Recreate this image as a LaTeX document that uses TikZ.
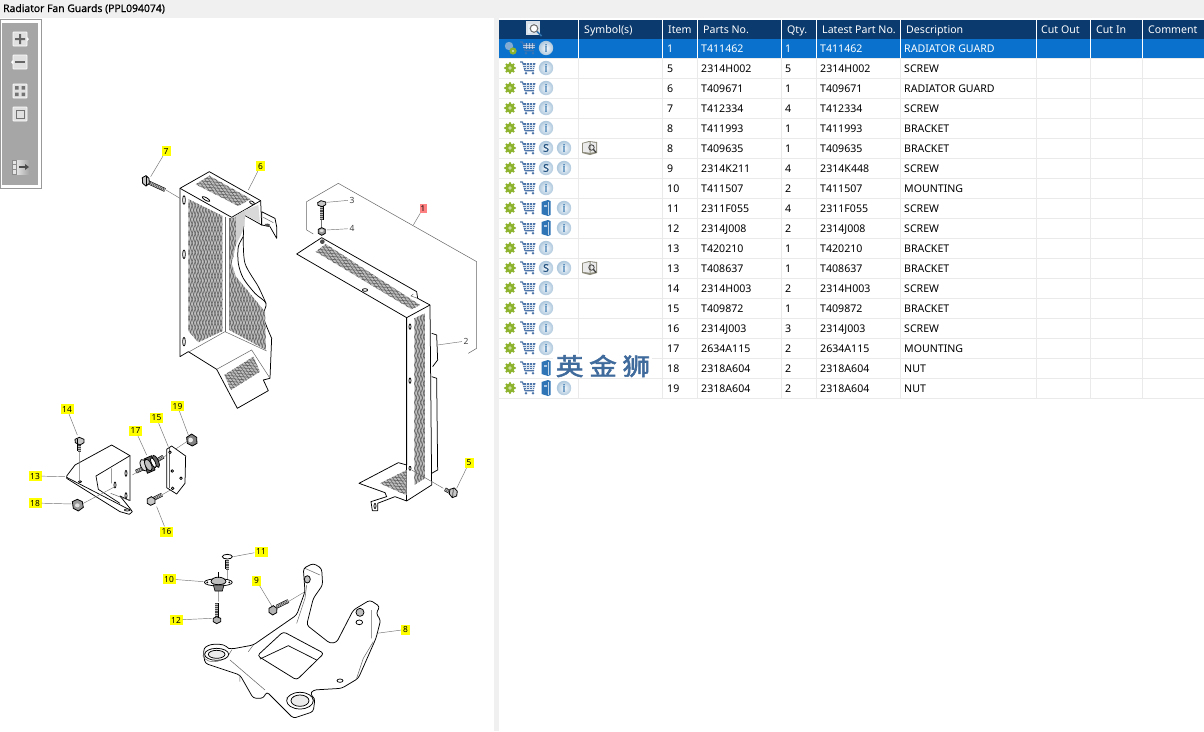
\documentclass[tikz,border=0pt]{standalone}
\usepackage{fontspec}
\setmainfont{Noto Sans}
\newfontfamily\cjk{Noto Sans CJK SC}[FakeBold=2.2]
\newfontfamily\boldf{Open Sans}[FakeBold=1.2]
\newfontfamily\iconf{Open Sans}[FakeBold=2]
\usetikzlibrary{calc,patterns.meta,shapes.geometric}
\definecolor{navy}{HTML}{0B3A6E}
\definecolor{selblue}{HTML}{0A72CC}
\definecolor{gridc}{HTML}{EAEAEA}
\definecolor{gearg}{HTML}{8DB32D}
\definecolor{cartb}{HTML}{4F76AA}
\definecolor{infof}{HTML}{B6D2E8}
\definecolor{infot}{HTML}{2F72AC}
\definecolor{bookb}{HTML}{2F74B5}
\definecolor{calloutY}{HTML}{FFFF00}
\definecolor{calloutP}{HTML}{FF8080}
\definecolor{wm}{HTML}{3F6A9C}
\definecolor{manualc}{HTML}{8E8C7C}
\tikzset{
 x=1pt,y=-1pt,
 txt/.style={anchor=base west,inner sep=0pt,font=\fontsize{10.6}{12}\selectfont,text=black},
 hdr/.style={anchor=base west,inner sep=0pt,font=\fontsize{10.6}{12}\selectfont,text=white},
 ylab/.style={fill=calloutY,inner sep=0pt,minimum width=9pt,minimum height=10pt,font=\fontsize{8.4}{9}\selectfont,text=black},
 plab/.style={inner sep=0pt,minimum width=8pt,minimum height=9pt,font=\fontsize{8.5}{9}\selectfont,text=black!80},
 leader/.style={draw=black!55,line width=.45pt},
 thin part/.style={draw=black!55,line width=.4pt},
 part/.style={draw=black,line width=.75pt,line join=round,fill=white},
 edge/.style={draw=black!60,line width=.5pt},
 head/.style={draw=black,line width=.8pt,fill=black!22},
 btn/.style={draw=white,fill=black!12,line width=.6pt,rounded corners=.6pt},
 meshA/.style={pattern={Lines[angle=#1,distance=2.9pt,line width=.6pt]},pattern color=black!62},
 z4/.style={shift={(130,130)},x=.3333pt,y=-.3333pt},
 z5/.style={shift={(285,170)},x=.3333pt,y=-.3333pt},
 z6/.style={shift={(20,390)},x=.3333pt,y=-.3333pt},
 z7/.style={shift={(150,535)},x=.3333pt,y=-.3333pt},
}
\newcommand{\meshpoly}[3]{%
 \fill[black!25] #1;
 \fill[meshA=#2] #1;
 \fill[meshA=#3] #1;}
% threaded shank from #1 to #2
\newcommand{\shank}[2]{%
 \draw[black,line width=3.8pt] #1 -- #2;
 \draw[white!75!black,line width=2.6pt] #1 -- #2;
 \draw[black!70,line width=2.6pt,dash pattern=on .7pt off 1.1pt] #1 -- #2;}
\newcommand{\gearicon}[2]{%
 \begin{scope}[shift={(#1,#2)}]
 \foreach \a in {0,45,...,315}{\fill[gearg] (\a:4.8) circle (1.35);}
 \fill[gearg] (0,0) circle (4.5);
 \fill[white!55!gearg] (0,0) circle (1.8);
 \end{scope}}
\newcommand{\carticon}[2]{%
 \begin{scope}[shift={(#1,#2)}]
 \draw[cartb,line width=1.1pt,line join=round] (-8,-6) -- (-5.5,-6) -- (-3,2.7) -- (6,2.7);
 \fill[cartb] (-5,-5) -- (7.5,-5) -- (6,1.2) -- (-3.3,1.2) -- cycle;
 \foreach \yy in {-3,-1}{\draw[white!80!cartb,line width=.35pt] (-5,\yy) -- (7,\yy);}
 \foreach \xx in {-1.5,1.5,4.5}{\draw[white!80!cartb,line width=.35pt] (\xx,-5) -- (\xx,1.2);}
 \fill[cartb] (-2,5.2) circle (1.4) (5,5.2) circle (1.4);
 \end{scope}}
\newcommand{\roundicon}[4]{%
 \begin{scope}[shift={(#1,#2)}]
 \shade[inner color=white!90!infof,outer color=infof!95!black] (0,0) circle (7.2);
 \node[inner sep=0pt,text=#4,font=\iconf\fontsize{10.5}{10}\selectfont] at (0,0) {#3};
 \end{scope}}
\newcommand{\bookicon}[2]{%
 \begin{scope}[shift={(#1,#2)}]
 \fill[bookb] (-4.5,-6) -- (2,-8) -- (4.5,-7) -- (4.5,7) -- (2,8) -- (-4.5,6) -- cycle;
 \draw[white!70!bookb,line width=.7pt] (2.5,-6.5) -- (2.5,6.5);
 \fill[white!60!bookb] (-2.5,-3.5) rectangle (.5,-1.5);
 \end{scope}}
\newcommand{\manualicon}[2]{%
 \begin{scope}[shift={(#1,#2)}]
 \fill[manualc] (-8,-5) -- (-1,-7) -- (7,-6) -- (7,5) -- (0,7) -- (-8,5) -- cycle;
 \fill[white!92!black] (-6.8,-4.5) -- (-.5,-6) -- (-.5,4.8) -- (-6.8,3.8) -- cycle;
 \fill[white!92!black] (.5,-6) -- (6,-5) -- (6,3.8) -- (.5,4.8) -- cycle;
 \draw[black!70,line width=.9pt] (1.5,-.5) circle (2.7);
 \draw[black!75,line width=1.3pt] (3.5,1.5) -- (6,4.5);
 \end{scope}}
\begin{document}
\begin{tikzpicture}
\useasboundingbox (0,0) rectangle (1204,731);
\fill[white] (0,0) rectangle (1204,731);
% title bar and divider
\fill[black!6] (0,0) rectangle (1204,18);
\node[inner sep=0pt,anchor=base west,font=\boldf\fontsize{10.4}{12}\selectfont] (title) at (3,12) {Radiator Fan Guards (PPL094074)};
\fill[black!6] (494,18) rectangle (499,731);
% toolbar
\draw[black!40,line width=.8pt,fill=white] (.5,19.5) rectangle (41,188);
\fill[black!35] (2,23) rectangle (38,185);
\draw[btn] (13,32) rectangle (27,46);
\fill[black!60] (15,38) rectangle (25,40) (19,34) rectangle (21,44);
\fill[white] (27,37) -- (29,39) -- (27,41) -- cycle;
\draw[btn] (13,55) rectangle (27,69);
\fill[black!60] (15,61) rectangle (25,63);
\fill[white] (13,60) -- (11,62) -- (13,64) -- cycle;
\draw[btn] (13,84) rectangle (27,98);
\fill[black!55] (15,86) rectangle (18.5,89.5) (21.5,86) rectangle (25,89.5) (15,92.5) rectangle (18.5,96) (21.5,92.5) rectangle (25,96);
\draw[btn] (13,107) rectangle (27,121);
\draw[black!55,line width=.9pt] (16,110) rectangle (24,118);
\shade[left color=black!10,right color=black!35] (16,160) rectangle (29,174);
\fill[black!10] (12,160) rectangle (16,174);
\draw[black!45,line width=.5pt] (12,160) rectangle (16,174) (12,164.5) -- (16,164.5) (12,169.5) -- (16,169.5);
\draw[black!70,line width=1.2pt] (19,167) -- (26,167);
\fill[black!70] (25,164) -- (29,167) -- (25,170) -- cycle;

% ---------- guard 6 ----------
\begin{scope}[z4]
 \draw[part] (395,245) -- (435,265) -- (440,290) -- (440,325) -- (420,290) -- (395,285) -- cycle;
 \draw[edge] (400,262) -- (430,278) (405,282) -- (420,290);
 \fill[black!70] (412,285) ellipse (8 and 4);
 \draw[part] (150,175) -- (238,125) -- (392,212) -- (395,285) -- (342,255) -- (340,320) -- plot[smooth] coordinates {(340,320) (325,350) (325,400) (340,445) (375,490) (408,520) (400,560) (425,625)} -- (420,745) -- (400,750) -- (415,782) -- (322,835) -- (260,718) -- (175,665) -- (150,680) -- cycle;
 \draw[black,line width=.7pt] plot[smooth] coordinates {(340,320) (345,400) (385,470) (408,520)};
 \draw[black,line width=.75pt] (150,175) -- (305,262) -- (392,212);
 \fill[black!18] (310,262) -- (345,240) -- (345,255) -- (340,300) -- (318,345) -- (318,265) -- cycle;
 \fill[black!15] (345,240) -- (385,225) -- (390,278) -- (345,255) -- cycle;
 \draw[edge] (305,262) -- (305,270) (285,262) -- (285,605) (298,265) -- (298,600);
 \draw[edge] (178,665) -- (285,605) -- (410,663) (260,718) -- (365,660) -- (420,745);
 \meshpoly{(197,163) -- (238,137) -- (362,207) -- (325,228) -- cycle}{-5}{-55}
 \meshpoly{(175,207) -- (278,258) -- (278,603) -- (205,637) -- (175,603) -- cycle}{-72}{-108}
 \meshpoly{(300,265) -- (318,262) -- (318,345) -- (305,400) -- (318,440) -- (405,545) -- (408,660) -- (298,600) -- cycle}{-72}{-108}
 \meshpoly{(283,735) -- (370,680) -- (390,725) -- (303,780) -- cycle}{-5}{-55}
 \draw[part] (162,210) ellipse (4 and 13);
 \draw[part] (162,373) ellipse (4 and 13);
 \draw[part] (162,635) ellipse (4 and 13);
 \draw[part,rotate around={-30:(228,207)}] (228,207) ellipse (13 and 4);
 \draw[part,rotate around={-30:(366,218)}] (366,218) ellipse (8 and 4);
 \coordinate (e7a) at (62,140); \coordinate (e7b) at (108,180); \coordinate (e7c) at (150,205);
 \coordinate (e6) at (355,180);
 % bolt 7
 \shank{(55,157)}{(105,180)}
 \draw[head] (37,143) -- (48,137) -- (57,145) -- (58,160) -- (48,168) -- (38,160) -- cycle;
 \draw[black,line width=.5pt] (48,137) -- (48,168);
\end{scope}
\node[ylab] (c7) at (166,151) {7};
\node[ylab] (c6) at (260.5,166) {6};
\draw[leader] (c7) -- (e7a) (e7b) -- (e7c) (c6) -- (e6);

% ---------- guard 1 ----------
\begin{scope}[z5]
 \draw[black!60,line width=.5pt] (85,192) -- (65,180) -- (65,95) -- (160,40) -- (575,275) -- (575,535) -- (550,550);
 \draw[part] (440,490) -- (455,495) -- (458,570) -- (443,590);
 \draw[part] (440,620) -- (455,625) -- (458,900) -- (440,910);
 \draw[part] (35,252) -- (110,203) -- (395,365) -- (398,385) -- (435,405) -- (440,945) -- (365,993) -- (330,980) -- (278,1000) -- (278,1022) -- (262,1022) -- (258,995) -- (305,980) -- (300,968) -- (222,940) -- (340,878) -- (365,885) -- (365,443) -- cycle;
 \draw[black,line width=.75pt] (365,443) -- (435,405);
 \draw[black,line width=.75pt] (365,443) -- (365,993);
 \draw[edge] (385,372) -- (378,378) -- (398,385);
 \meshpoly{(92,245) -- (122,222) -- (405,405) -- (380,418) -- cycle}{-5}{-55}
 \meshpoly{(388,445) -- (420,430) -- (420,925) -- (388,945) -- cycle}{-72}{-108}
 \meshpoly{(285,940) -- (365,900) -- (365,975) -- (340,965) -- cycle}{-5}{-55}
 \draw[part] (240,360) ellipse (8 and 4);
 \draw[part] (375,470) ellipse (3 and 8);
 \draw[part] (375,632) ellipse (3 and 8);
 \draw[part] (375,895) ellipse (3 and 6);
 \draw[part] (270,1008) ellipse (3 and 8);
 \fill[black!70] (112,215) circle (7);
 % bolt 3, nut 4
 \shank{(110,108)}{(110,150)}
 \draw[head] (98,98) -- (108,92) -- (122,96) -- (122,104) -- (112,110) -- (99,106) -- cycle;
 \draw[thin part] (110,150) -- (110,175);
 \draw[head,fill=black!40] (100,178) -- (110,173) -- (121,178) -- (121,190) -- (110,196) -- (100,190) -- cycle;
 \fill[black!12] (110,182) ellipse (6 and 4);
 % bolt 5
 \draw[black!60,line width=.45pt] (380,900) -- (475,955);
 \shank{(480,958)}{(497,967)}
 \draw[head] (495,958) -- (508,954) -- (517,964) -- (515,978) -- (502,983) -- (493,972) -- cycle;
 \draw[black,line width=.5pt] (505,954) -- (503,982);
 \coordinate (e3) at (125,97); \coordinate (e4) at (125,180);
 \coordinate (e2) at (458,525); \coordinate (e1) at (385,165); \coordinate (e5) at (515,955);
\end{scope}
\node[plab,text=black!75] (c3) at (352,200) {3};
\node[plab,text=black!75] (c4) at (352,228.5) {4};
\node[plab,text=black!75] (c2) at (466,341) {2};
\node[fill=calloutP,inner sep=0pt,minimum width=7pt,minimum height=9pt,font=\fontsize{8}{9}\selectfont] (c1) at (423,208.5) {1};
\node[ylab] (c5) at (469,463) {5};
\draw[leader] (c3) -- (e3) (c4) -- (e4) (c2) -- (e2) (c1) -- (e1) (c5) -- (e5);

% ---------- mounting group ----------
\begin{scope}[z6]
 \draw[part] (275,165) -- (330,197) -- (330,332) -- (300,318) -- (330,355) -- (337,365) -- (328,373) -- (300,365) -- (140,265) -- (140,258) -- (165,225) -- cycle;
 \draw[black,line width=.7pt] (140,262) -- (330,360);
 \draw[black,line width=.7pt] (330,197) -- (228,258) -- (235,298) -- (300,340);
 \draw[edge] (275,235) -- (275,280) (272,310) -- (330,332);
 \draw[part] (318,250) ellipse (3 and 9);
 \draw[part] (318,317) ellipse (3 and 9);
 \draw[part] (285,285) ellipse (3 and 9);
 \draw[part] (322,360) ellipse (9 and 3);
 \draw[part] (180,275) ellipse (5 and 3);
 \draw[thin part] (178,182) -- (178,272) (190,340) -- (285,290) (337,255) -- (350,247) (425,208) -- (445,190) (455,185) -- (500,155) (425,315) -- (455,298);
 \shank{(178,160)}{(178,183)}
 \draw[head] (165,148) -- (178,142) -- (192,148) -- (192,158) -- (180,165) -- (166,158) -- cycle;
 \draw[black,line width=.5pt] (172,146) -- (172,161);
 \draw[head,fill=black!40] (157,335) -- (172,328) -- (187,335) -- (190,352) -- (175,363) -- (160,355) -- cycle;
 \fill[black!12] (172,346) ellipse (7 and 6);
 % mount 17
 \shank{(348,245)}{(380,230)}
 \shank{(410,212)}{(430,200)}
 \draw[part,fill=black!15,rotate around={25:(372,226)}] (372,226) ellipse (10 and 19);
 \draw[part,fill=black!65] (372,207) -- (395,197) -- (405,240) -- (382,250) -- cycle;
 \draw[part,fill=black!25,rotate around={25:(385,225)}] (385,225) ellipse (9 and 19);
 \draw[part,fill=black!60,rotate around={25:(408,214)}] (408,214) ellipse (7 and 20);
 \draw[part,fill=white,rotate around={25:(400,218)}] (400,218) ellipse (6 and 16);
 % plate 15
 \draw[part] (440,178) -- (455,168) -- (497,198) -- (495,280) -- (470,312) -- (440,293) -- cycle;
 \draw[edge] (447,175) -- (447,293);
 \draw[part] (450,187) circle (4);
 \draw[part] (457,243) circle (4);
 \draw[part] (483,265) circle (4);
 \draw[part] (458,295) circle (4);
 \draw[head,fill=black!50] (500,142) -- (515,132) -- (530,142) -- (531,160) -- (517,168) -- (502,160) -- cycle;
 \fill[black!8] (512,150) ellipse (7 and 7);
 \shank{(402,326)}{(426,314)}
 \draw[head] (382,327) -- (394,320) -- (405,327) -- (405,340) -- (392,346) -- (382,340) -- cycle;
 \coordinate (e14) at (172,135); \coordinate (e13) at (135,260); \coordinate (e18) at (155,342);
 \coordinate (e17) at (380,195); \coordinate (e15) at (445,170); \coordinate (e19) at (505,135); \coordinate (e16) at (410,350);
\end{scope}
\node[ylab,minimum width=13pt] (c14) at (67,409) {14};
\node[ylab,minimum width=13pt] (c13) at (35,476) {13};
\node[ylab,minimum width=13pt] (c18) at (35,503) {18};
\node[ylab,minimum width=13pt] (c17) at (135.5,430.5) {17};
\node[ylab,minimum width=13pt] (c15) at (156.5,418) {15};
\node[ylab,minimum width=13pt] (c19) at (177.5,406) {19};
\node[ylab,minimum width=13pt] (c16) at (166.5,531.5) {16};
\draw[leader] (c14) -- (e14) (c13) -- (e13) (c18) -- (e18) (c17) -- (e17) (c15) -- (e15) (c19) -- (e19) (c16) -- (e16);

% ---------- frame 8 ----------
\begin{scope}[z7]
 \draw[part,rounded corners=3pt] (160,350) .. controls (165,335) and (180,328) .. (200,328) .. controls (225,328) and (235,340) .. (245,342) -- (310,330) -- (440,240) -- (465,170) -- (460,100) -- (490,85) -- (515,100) -- (518,150) -- (490,190) -- (470,270) -- (540,325) -- (560,322) -- (610,225) -- (660,195) -- (690,215) -- (678,235) -- (692,255) -- (678,310) -- (625,430) -- (575,460) -- (490,465) -- (480,478) -- (495,490) -- (490,530) -- (430,550) -- (350,470) -- (340,490) -- (310,490) -- (270,420) -- (165,385) -- cycle;
 \draw[part,rounded corners=3pt] (322,362) -- (400,290) -- (522,355) -- (440,435) -- cycle;
 \draw[black,line width=.7pt] (330,372) -- (415,332) -- (500,375);
 \draw[edge] (158,362) .. controls (175,395) and (230,380) .. (245,345);
 \draw[edge] (240,375) -- (345,465) (270,420) -- (270,440) (410,488) .. controls (420,520) and (480,525) .. (493,490);
 \draw[edge] (440,265) -- (465,190) -- (470,150) (665,225) -- (665,310) (640,370) -- (620,430) (670,320) -- (640,370) (295,350) -- (310,330) (465,100) -- (510,120);
 \draw[part] (200,358) ellipse (36 and 18);
 \draw[part,fill=black!8] (200,358) ellipse (25 and 12);
 \draw[part] (450,497) ellipse (40 and 25);
 \draw[part,fill=black!8] (450,497) ellipse (27 and 17);
 \draw[part] (570,437) ellipse (9 and 5);
 \draw[part,fill=black!25] (472,133) ellipse (9 and 11);
 \draw[part,fill=black!25] (630,232) ellipse (12 and 12);
 \draw[part] (628,262) ellipse (10 and 7);
 % screw 11
 \draw[thin part] (232,105) -- (232,135) (205,165) -- (205,200) (415,200) -- (465,170);
 \shank{(232,75)}{(232,103)}
 \draw[head,fill=white] (232,65) ellipse (15 and 7);
 % mount 10
 \draw[part] (205,142) ellipse (42 and 11);
 \draw[part,fill=black!25] (183,140) .. controls (185,122) and (225,122) .. (228,140) .. controls (225,152) and (185,152) .. (183,140) -- cycle;
 \draw[draw=black,line width=.6pt,fill=black!50] (190,150) -- (222,150) -- (217,168) -- (195,168) -- cycle;
 \draw[black,line width=.6pt] (205,112) -- (205,130);
 \fill[black] (172,142) circle (3) (238,142) circle (3);
 % bolt 12
 \shank{(200,205)}{(200,248)}
 \draw[head,fill=black!30] (190,250) -- (200,245) -- (212,250) -- (212,260) -- (200,266) -- (190,260) -- cycle;
 % bolt 9
 \shank{(380,215)}{(415,198)}
 \draw[head,fill=black!30] (357,220) -- (370,212) -- (381,220) -- (380,233) -- (368,240) -- (357,232) -- cycle;
 \coordinate (e11) at (250,65); \coordinate (e10) at (160,140); \coordinate (e12) at (185,250);
 \coordinate (e9) at (365,212); \coordinate (e8) at (680,295);
\end{scope}
\node[ylab,minimum width=13pt] (c11) at (261,551.5) {11};
\node[ylab,minimum width=13pt] (c10) at (169,579) {10};
\node[ylab,minimum width=13pt] (c12) at (176,620) {12};
\node[ylab] (c9) at (256.5,580.5) {9};
\node[ylab] (c8) at (405.5,629.5) {8};
\draw[leader] (c11) -- (e11) (c10) -- (e10) (c12) -- (e12) (c9) -- (e9) (c8) -- (e8);

% ---------- table ----------
\fill[navy] (499,20) rectangle (1204,39);
\fill[selblue] (499,39) rectangle (1204,58);
\foreach \r in {1,...,18}{\draw[gridc,line width=.8pt] (499,{38.5+\r*20}) -- (1204,{38.5+\r*20});}
\foreach \c in {578,662,697,781,816,900,1036,1090,1142}{
 \draw[gridc,line width=.8pt] (\c.5,58) -- (\c.5,398.5);
 \draw[white,line width=.9pt] (\c.5,20) -- (\c.5,58);}
\node[hdr] (hS) at (584,33.5) {Symbol(s)};
\node[hdr] (hI) at (668,33.5) {Item};
\node[hdr] (hP) at (703,33.5) {Parts No.};
\node[hdr] (hQ) at (787,33.5) {Qty.};
\node[hdr] (hL) at (822,33.5) {Latest Part No.};
\node[hdr] (hD) at (906,33.5) {Description};
\node[hdr] (hC) at (1041,33.5) {Cut Out};
\node[hdr] (hN) at (1096,33.5) {Cut In};
\node[hdr] (hM) at (1148,33.5) {Comment};
% header search icon
\fill[white!85!navy] (526,21) rectangle (540,35);
\fill[white!70!infof] (528,24) rectangle (538,33);
\draw[black!55,line width=1.1pt,fill=white] (534,28.5) circle (3.8);
\draw[infot,line width=1.6pt] (537,31.5) -- (541.5,36);
% first row
\node[txt,text=white] (i1) at (667,52.5) {1};
\node[txt,text=white] (p1) at (701,52.5) {T411462};
\node[txt,text=white] (q1) at (785,52.5) {1};
\node[txt,text=white] (l1) at (820,52.5) {T411462};
\node[txt,text=white] (d1) at (904,52.5) {RADIATOR GUARD};
\fill[bookb!60!white] (509,46) circle (4.2);
\fill[gearg] (513,51) circle (3.6);
\fill[white!70!gearg] (513,51) circle (1.2);
\begin{scope}[opacity=.7]\carticon{528}{48}\end{scope}
\roundicon{546}{48}{i}{infot}
% other rows
\foreach \y/\it/\pn/\qt/\lp/\de/\ic in {
 68/5/2314H002/5/2314H002/SCREW/0,
 88/6/T409671/1/T409671/RADIATOR GUARD/0,
 108/7/T412334/4/T412334/SCREW/0,
 128/8/T411993/1/T411993/BRACKET/0,
 148/8/T409635/1/T409635/BRACKET/3,
 168/9/2314K211/4/2314K448/SCREW/1,
 188/10/T411507/2/T411507/MOUNTING/0,
 208/11/2311F055/4/2311F055/SCREW/2,
 228/12/2314J008/2/2314J008/SCREW/2,
 248/13/T420210/1/T420210/BRACKET/0,
 268/13/T408637/1/T408637/BRACKET/3,
 288/14/2314H003/2/2314H003/SCREW/0,
 308/15/T409872/1/T409872/BRACKET/0,
 328/16/2314J003/3/2314J003/SCREW/0,
 348/17/2634A115/2/2634A115/MOUNTING/0,
 368/18/2318A604/2/2318A604/NUT/4,
 388/19/2318A604/2/2318A604/NUT/2}{
 \node[txt] (i\y) at (667,\y+4.5) {\it};
 \node[txt] (p\y) at (701,\y+4.5) {\pn};
 \node[txt] (q\y) at (785,\y+4.5) {\qt};
 \node[txt] (l\y) at (820,\y+4.5) {\lp};
 \node[txt] (d\y) at (904,\y+4.5) {\de};
 \gearicon{510}{\y}
 \carticon{528}{\y}
 \ifnum\ic=0 \roundicon{546}{\y}{i}{infot}\fi
 \ifnum\ic=1 \roundicon{546}{\y}{S}{bookb!70!black}\roundicon{564}{\y}{i}{infot}\fi
 \ifnum\ic=2 \bookicon{546}{\y}\roundicon{564}{\y}{i}{infot}\fi
 \ifnum\ic=3 \roundicon{546}{\y}{S}{bookb!70!black}\roundicon{564}{\y}{i}{infot}\manualicon{590}{\y}\fi
 \ifnum\ic=4 \bookicon{546}{\y}\fi
}
% watermark
\fill[white] (553,354) rectangle (652,378);
\node[inner sep=0pt,text=wm,xscale=1.15,font=\cjk\fontsize{24}{26}\selectfont] (wmark) at (603,366) {英\hspace{5pt}金\hspace{5pt}狮};
\end{tikzpicture}
\end{document}
